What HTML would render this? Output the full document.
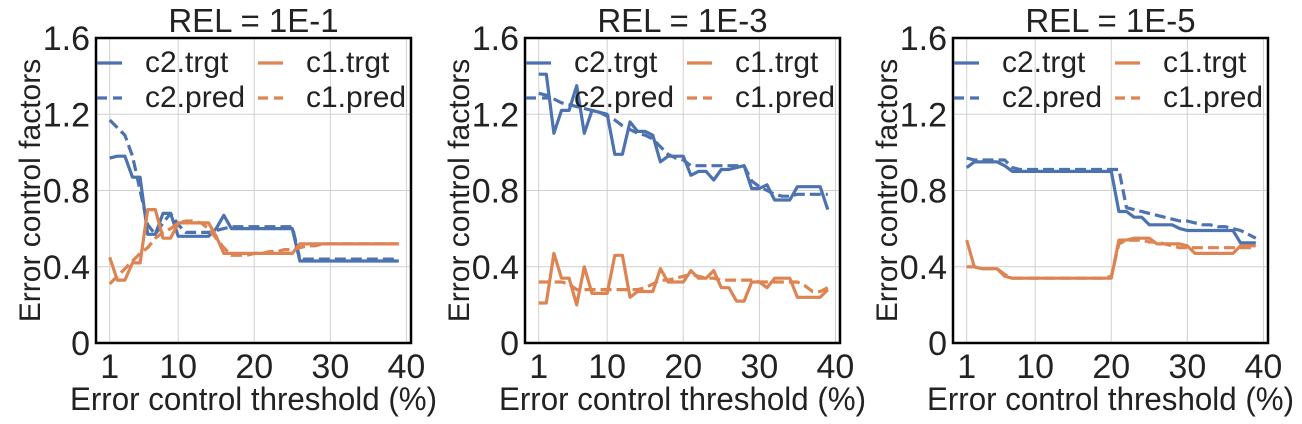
<!DOCTYPE html>
<html><head><meta charset="utf-8">
<style>
html,body{margin:0;padding:0;background:#fff;}
svg{display:block;font-family:"Liberation Sans",Arial,sans-serif;}
</style></head>
<body>
<svg id="chart" width="1302" height="424" viewBox="0 0 1302 424" xmlns="http://www.w3.org/2000/svg"></svg>
<script>
const xValues = [1,2,3,4,5,6,7,8,9,10,11,12,13,14,15,16,17,18,19,20,21,22,23,24,25,26,27,28,29,30,31,32,33,34,35,36,37,38,39];
const panelTitles = ["REL = 1E-1","REL = 1E-3","REL = 1E-5"];
const xTicks = [1,10,20,30,40];
const yTicks = [0,0.4,0.8,1.2,1.6];
const yTickLabels = ["0","0.4","0.8","1.2","1.6"];

const p1_c2trgt = [0.97,0.98,0.98,0.87,0.87,0.57,0.57,0.68,0.68,0.56,0.56,0.56,0.56,0.56,0.6,0.67,0.6,0.6,0.6,0.6,0.6,0.6,0.6,0.6,0.6,0.43,0.43,0.43,0.43,0.43,0.43,0.43,0.43,0.43,0.43,0.43,0.43,0.43,0.43];
const p1_c2pred = [1.17,1.13,1.09,0.98,0.8,0.62,0.57,0.63,0.68,0.62,0.58,0.58,0.58,0.58,0.59,0.6,0.61,0.61,0.61,0.61,0.61,0.61,0.61,0.61,0.61,0.44,0.44,0.44,0.44,0.44,0.44,0.44,0.44,0.44,0.44,0.44,0.44,0.44,0.44];
const p1_c1trgt = [0.45,0.33,0.33,0.42,0.42,0.7,0.7,0.55,0.55,0.63,0.63,0.63,0.63,0.63,0.56,0.47,0.47,0.47,0.47,0.47,0.47,0.47,0.47,0.47,0.47,0.52,0.52,0.52,0.52,0.52,0.52,0.52,0.52,0.52,0.52,0.52,0.52,0.52,0.52];
const p1_c1pred = [0.31,0.35,0.39,0.43,0.47,0.5,0.55,0.58,0.6,0.63,0.64,0.64,0.63,0.6,0.55,0.5,0.46,0.46,0.46,0.47,0.47,0.48,0.48,0.49,0.49,0.5,0.51,0.51,0.52,0.52,0.52,0.52,0.52,0.52,0.52,0.52,0.52,0.52,0.52];

const p2_c2trgt = [1.41,1.41,1.10,1.22,1.22,1.35,1.10,1.22,1.21,1.20,0.99,0.99,1.16,1.11,1.11,1.09,0.95,0.98,0.98,0.98,0.88,0.90,0.90,0.855,0.91,0.91,0.92,0.93,0.81,0.81,0.83,0.75,0.75,0.75,0.82,0.82,0.82,0.82,0.70];
const p2_c2pred = [1.31,1.30,1.28,1.26,1.25,1.24,1.23,1.22,1.21,1.19,1.17,1.14,1.12,1.10,1.09,1.07,1.03,0.99,0.97,0.96,0.93,0.93,0.93,0.93,0.93,0.93,0.93,0.93,0.85,0.82,0.80,0.78,0.77,0.77,0.78,0.78,0.78,0.78,0.78];
const p2_c1trgt = [0.21,0.21,0.47,0.34,0.34,0.20,0.40,0.26,0.26,0.26,0.46,0.46,0.24,0.27,0.27,0.27,0.39,0.32,0.32,0.32,0.38,0.34,0.34,0.38,0.29,0.29,0.22,0.22,0.32,0.32,0.29,0.34,0.34,0.34,0.24,0.24,0.24,0.24,0.28];
const p2_c1pred = [0.32,0.32,0.32,0.32,0.31,0.28,0.28,0.28,0.28,0.28,0.28,0.28,0.28,0.28,0.29,0.31,0.33,0.33,0.34,0.35,0.36,0.35,0.34,0.34,0.33,0.33,0.33,0.33,0.33,0.32,0.32,0.32,0.32,0.32,0.32,0.30,0.27,0.27,0.29];

const p3_c2trgt = [0.92,0.95,0.95,0.95,0.95,0.93,0.90,0.90,0.90,0.90,0.90,0.90,0.90,0.90,0.90,0.90,0.90,0.90,0.90,0.90,0.69,0.69,0.66,0.66,0.62,0.62,0.62,0.62,0.60,0.59,0.59,0.59,0.59,0.59,0.59,0.59,0.525,0.525,0.525];
const p3_c2pred = [0.97,0.96,0.96,0.96,0.96,0.96,0.92,0.91,0.91,0.91,0.91,0.91,0.91,0.91,0.91,0.91,0.91,0.91,0.91,0.91,0.91,0.71,0.70,0.69,0.68,0.67,0.66,0.65,0.64,0.64,0.63,0.62,0.62,0.61,0.61,0.60,0.59,0.57,0.55];
const p3_c1trgt = [0.54,0.40,0.39,0.39,0.39,0.35,0.34,0.34,0.34,0.34,0.34,0.34,0.34,0.34,0.34,0.34,0.34,0.34,0.34,0.34,0.54,0.54,0.55,0.55,0.55,0.52,0.52,0.52,0.52,0.51,0.47,0.47,0.47,0.47,0.47,0.47,0.51,0.51,0.51];
const p3_c1pred = [0.40,0.40,0.39,0.39,0.39,0.36,0.34,0.34,0.34,0.34,0.34,0.34,0.34,0.34,0.34,0.34,0.34,0.34,0.34,0.35,0.52,0.54,0.54,0.54,0.53,0.53,0.52,0.51,0.50,0.50,0.50,0.50,0.50,0.50,0.50,0.50,0.50,0.50,0.50];

const panelData = [
  [p1_c2trgt,p1_c2pred,p1_c1trgt,p1_c1pred],
  [p2_c2trgt,p2_c2pred,p2_c1trgt,p2_c1pred],
  [p3_c2trgt,p3_c2pred,p3_c1trgt,p3_c1pred]
];
const seriesNames = ["c2-trgt","c2-pred","c1-trgt","c1-pred"];
const BLUE="#4c72b0", ORANGE="#dd8452";
const seriesColor=[BLUE,BLUE,ORANGE,ORANGE];
const seriesDash=[null,"11,5",null,"11,5"];
const lefts=[96,525,953], W=315, TOP=38, BOT=343;
const XMIN=-0.8, XMAX=40.6, YMIN=0, YMAX=1.6;
const NS="http://www.w3.org/2000/svg";
const svg=document.getElementById('chart');
function mk(tag,attrs,parent){const e=document.createElementNS(NS,tag);for(const k in attrs)e.setAttribute(k,attrs[k]);(parent||svg).appendChild(e);return e;}

panelData.forEach((series,pi)=>{
  const L=lefts[pi];
  const xs=v=>L+(v-XMIN)/(XMAX-XMIN)*W;
  const ys=v=>BOT-(v-YMIN)/(YMAX-YMIN)*(BOT-TOP);
  const g=mk('g',{});
  
  
  xTicks.forEach(t=>{const l=mk('line',{x1:xs(t),x2:xs(t),y1:TOP,y2:BOT,stroke:'#d0d0d0','stroke-width':1},g);
    });
  yTicks.forEach(t=>{const l=mk('line',{x1:L,x2:L+W,y1:ys(t),y2:ys(t),stroke:'#d0d0d0','stroke-width':1},g);
    });
  series.forEach((arr,si)=>{
    const pts=arr.map((v,i)=>xs(xValues[i]).toFixed(1)+','+ys(v).toFixed(1)).join(' ');
    const a={points:pts,fill:'none',stroke:seriesColor[si],'stroke-width':3.2,'stroke-linejoin':'round'};
    if(seriesDash[si])a['stroke-dasharray']=seriesDash[si];
    const pl=mk('polyline',a,g);
    
    
  });
  const fr=mk('rect',{x:L,y:TOP,width:W,height:BOT-TOP,fill:'none',stroke:'#000','stroke-width':2.5},g);
  
  xTicks.forEach(t=>{const tx=mk('text',{x:xs(t),y:378,'text-anchor':'middle','font-size':34,fill:'#222'},g);tx.textContent=t;
    });
  yTicks.forEach((t,i)=>{const tx=mk('text',{x:L-6,y:ys(t)+12,'text-anchor':'end','font-size':34,fill:'#222'},g);tx.textContent=yTickLabels[i];
    });
  const ti=mk('text',{x:L+W/2,y:32,'text-anchor':'middle','font-size':33,fill:'#222'},g);ti.textContent=panelTitles[pi];
  
  const xl=mk('text',{x:L+W/2,y:410,'text-anchor':'middle','font-size':32,fill:'#222',textLength:367,lengthAdjust:'spacingAndGlyphs'},g);xl.textContent='Error control threshold (%)';
  
  const yl=mk('text',{x:0,y:0,'text-anchor':'middle','font-size':30,fill:'#222',transform:`translate(${L-56},${(TOP+BOT)/2}) rotate(-90)`},g);yl.textContent='Error control factors';
  
  const lg=mk('g',{},g);
  
  const legLabels=["c2.trgt","c2.pred","c1.trgt","c1.pred"];
  const pos=[[0,0],[0,1],[1,0],[1,1]];
  legLabels.forEach((lab,si)=>{
    const cx=L+1+pos[si][0]*161, cy=63+pos[si][1]*35;
    const la={x1:cx,x2:cx+25,y1:cy,y2:cy,stroke:seriesColor[si],'stroke-width':3.2};
    if(seriesDash[si])la['stroke-dasharray']='10,6';
    const hl=mk('line',la,lg);
    
    const tt=mk('text',{x:cx+48,y:cy+9,'font-size':30,fill:'#222'},lg);tt.textContent=lab;
    
  });
});
</script>
</body></html>
